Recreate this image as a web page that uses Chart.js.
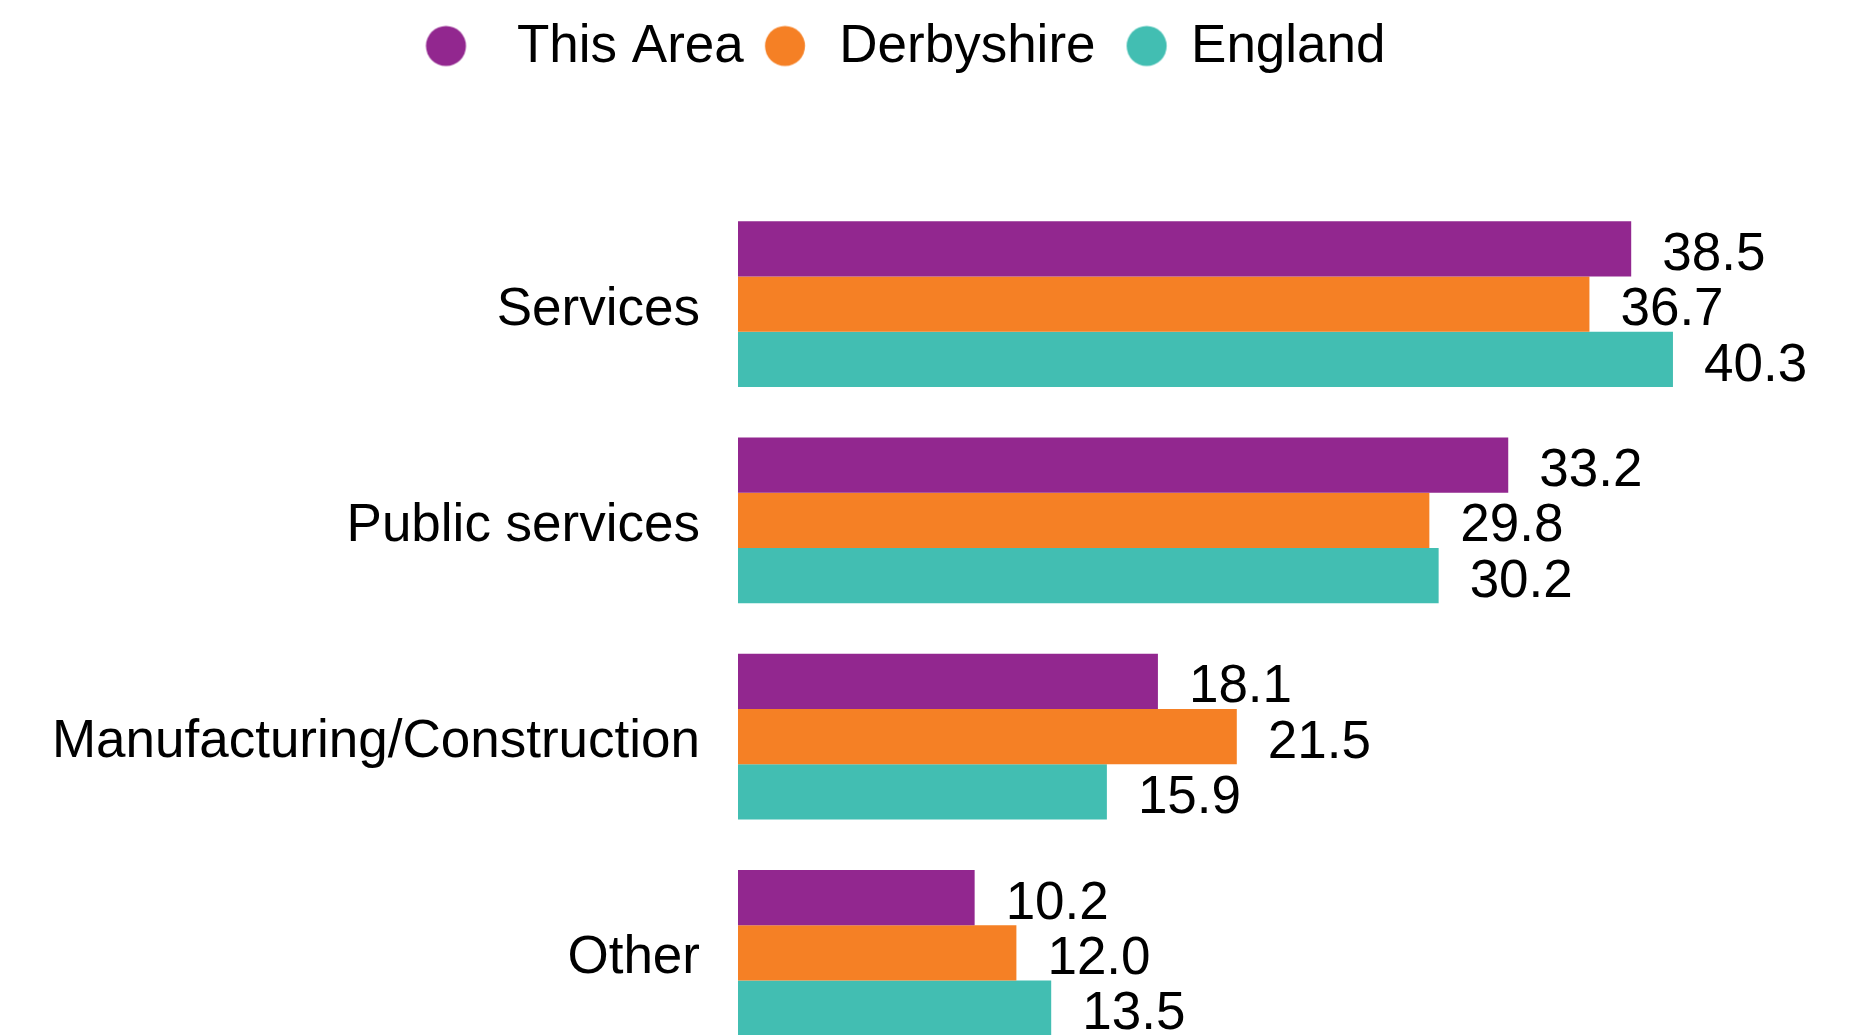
<!DOCTYPE html>
<html>
<head>
<meta charset="utf-8">
<script src="https://cdn.jsdelivr.net/npm/chart.js@4/dist/chart.umd.min.js"></script>
<style>
  html, body { margin: 0; padding: 0; background: #ffffff; overflow: hidden; }
  canvas { display: block; }
</style>
</head>
<body>
<canvas id="c" width="1859" height="1061"></canvas>
<script>
const categories = ['Services', 'Public services', 'Manufacturing/Construction', 'Other'];
const seriesNames = ['This Area', 'Derbyshire', 'England'];
const thisArea = [38.5, 33.2, 18.1, 10.2];
const derbyshire = [36.7, 29.8, 21.5, 12.0];
const england = [40.3, 30.2, 15.9, 13.5];
const colors = ['#92278F', '#F58025', '#42BEB2'];

Chart.defaults.font.family = '"Liberation Sans", Arial, Helvetica, sans-serif';
Chart.defaults.color = '#000000';

// legend dot images (circle radius 20), with small horizontal nudges
const dotNudges = [-20.5, -3.8, 6.1];
function circleImage(color, dx) {
  const cv = document.createElement('canvas');
  cv.width = 100; cv.height = 46;
  const g = cv.getContext('2d');
  g.fillStyle = color;
  g.beginPath();
  g.arc(50 + dx, 21.5, 20, 0, Math.PI * 2);
  g.fill();
  return cv;
}
const legendDots = colors.map((c, i) => circleImage(c, dotNudges[i]));

const legendSpacer = {
  id: 'legendSpacer',
  beforeInit(chart) {
    const lg = chart.legend;
    if (!lg) return;
    const orig = lg.fit;
    lg.fit = function () {
      orig.call(this);
      this.height = 196;
    };
  }
};

const valueLabels = {
  id: 'valueLabels',
  afterDatasetsDraw(chart) {
    const ctx = chart.ctx;
    ctx.save();
    ctx.font = '53px "Liberation Sans", Arial, sans-serif';
    ctx.fillStyle = '#000000';
    ctx.textAlign = 'left';
    ctx.textBaseline = 'middle';
    chart.data.datasets.forEach((ds, di) => {
      const meta = chart.getDatasetMeta(di);
      meta.data.forEach((el, i) => {
        const v = ds.data[i];
        ctx.fillText(v.toFixed(1), el.x + 31, el.y + 6.5);
      });
    });
    ctx.restore();
  }
};

new Chart(document.getElementById('c'), {
  type: 'bar',
  data: {
    labels: categories,
    datasets: [
      { label: seriesNames[0], data: thisArea, backgroundColor: colors[0] },
      { label: seriesNames[1], data: derbyshire, backgroundColor: colors[1] },
      { label: seriesNames[2], data: england, backgroundColor: colors[2] }
    ]
  },
  options: {
    indexAxis: 'y',
    responsive: false,
    maintainAspectRatio: false,
    devicePixelRatio: 1,
    animation: false,
    events: [],
    layout: { padding: { left: 46, right: 77, top: 0, bottom: 0 } },
    datasets: {
      bar: { categoryPercentage: 0.7675, barPercentage: 1.0, borderWidth: 0 }
    },
    scales: {
      x: {
        display: false,
        min: 0,
        max: 45
      },
      y: {
        grid: { display: false, drawTicks: false },
        border: { display: false },
        ticks: {
          font: { size: 53 },
          color: '#000000',
          padding: 38,
          labelOffset: 6,
          autoSkip: false
        },
        afterFit(scale) {
          scale.width = 692;
          scale.paddingTop = 0;
          scale.paddingBottom = 0;
        }
      }
    },
    plugins: {
      tooltip: { enabled: false },
      legend: {
        display: true,
        position: 'top',
        align: 'center',
        labels: {
          usePointStyle: true,
          pointStyleWidth: 48,
          padding: 21,
          color: '#000000',
          font: { size: 53 },
          generateLabels(chart) {
            const items = Chart.defaults.plugins.legend.labels.generateLabels(chart);
            items.forEach(it => { it.pointStyle = legendDots[it.datasetIndex]; });
            return items;
          }
        }
      }
    }
  },
  plugins: [legendSpacer, valueLabels]
});
</script>
</body>
</html>
